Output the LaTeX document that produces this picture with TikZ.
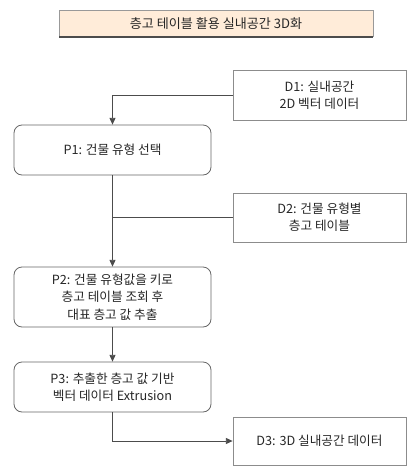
\documentclass[tikz,border=0pt]{standalone}
\usepackage{fontspec}
\setmainfont{Noto Sans CJK KR}
\usetikzlibrary{arrows.meta}
\begin{document}
\begin{tikzpicture}[x=0.75pt,y=-0.75pt,
  every node/.style={font=\fontsize{9.5}{13}\selectfont, text=black!85, align=center},
  proc/.style={draw=black!60, rounded corners=6pt, line width=0.6pt, minimum width=197*0.75pt, minimum height=#1*0.75pt, inner sep=0pt},
  dstore/.style={draw=black!45, line width=0.6pt, minimum width=173*0.75pt, minimum height=#1*0.75pt, inner sep=0pt},
  conn/.style={draw=black!70, line width=0.6pt},
  arr/.style={conn, -{Triangle[length=5pt,width=4.5pt]}}
]
\useasboundingbox (0,0) rectangle (419,468);
% title
\fill[orange!15!white] (59,10) rectangle (373,37);
\draw[black!40, line width=0.6pt] (59,37) -- (59,10) -- (373,10) -- (373,37);
\draw[black!70, line width=0.8pt] (59,37) -- (373,37);
\node[font=\fontsize{9.8}{13}\selectfont] (title) at (216,23.5) {층고 테이블 활용 실내공간 3D화};
% nodes
\node[dstore=50] (d1) at (319.5,95) {D1: 실내공간\\2D 벡터 데이터};
\node[proc=50] (p1) at (112.5,150) {P1: 건물 유형 선택};
\node[dstore=49] (d2) at (319.5,217.5) {D2: 건물 유형별\\층고 테이블};
\node[proc=60] (p2) at (112.5,297) {P2: 건물 유형값을 키로\\층고 테이블 조회 후\\대표 층고 값 추출};
\node[proc=50] (p3) at (112.5,387) {P3: 추출한 층고 값 기반\\벡터 데이터 Extrusion};
\node[dstore=48] (d3) at (319.5,441) {D3: 3D 실내공간 데이터};
\coordinate (j2) at (112.5,217.5);
% connectors
\draw[arr] (d1.west) -| (p1.north);
\draw[arr] (p1.south) -- (p2.north);
\draw[conn] (d2.west) -- (j2);
\draw[arr] (p2.south) -- (p3.north);
\draw[arr] (p3.south) |- (d3.west);
\end{tikzpicture}
\end{document}
